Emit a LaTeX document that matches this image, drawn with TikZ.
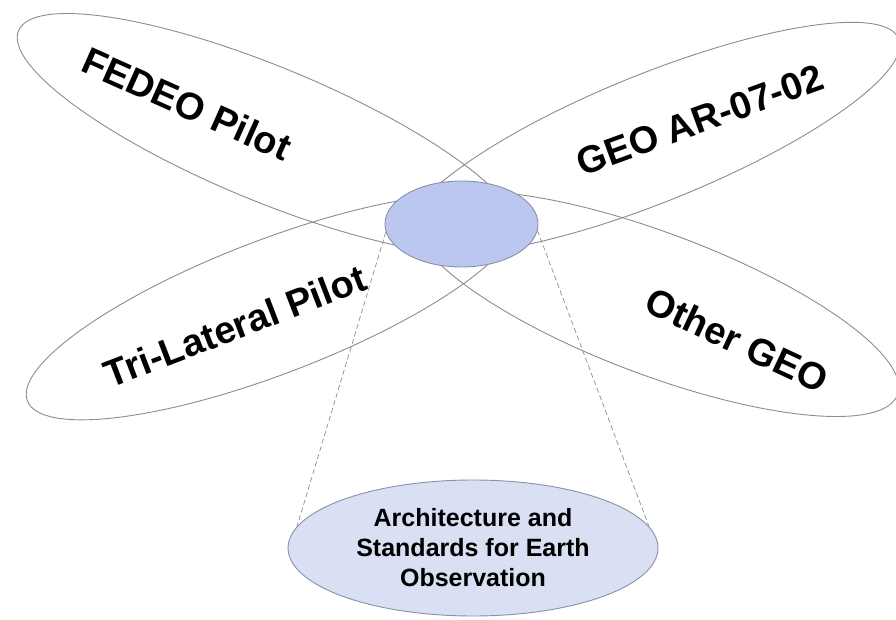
\documentclass[tikz,border=0pt]{standalone}
\usepackage{fontspec}
\setmainfont{Liberation Sans}
\usetikzlibrary{shapes.geometric}

\definecolor{petalgray}{RGB}{140,140,140}
\definecolor{corefill}{RGB}{187,199,238}
\definecolor{coreline}{RGB}{135,145,170}
\definecolor{basefill}{RGB}{218,224,244}

\begin{document}
\begin{tikzpicture}[x=1pt,y=1pt,
  petal/.style={draw=petalgray,line width=0.9pt},
  petallabel/.style={font=\fontsize{38}{42}\selectfont\bfseries,inner sep=0pt},
  core/.style={ellipse,draw=coreline,line width=0.9pt,fill=corefill,inner sep=0pt}]
\useasboundingbox (0,0) rectangle (896,619);

% petals
\draw[petal,rotate around={-22.5:(268,485)}] (268,485) ellipse [x radius=270,y radius=67];
\draw[petal,rotate around={22:(653,481)}] (653,481) ellipse [x radius=265,y radius=64];
\draw[petal,rotate around={21:(272,312)}] (272,312) ellipse [x radius=262,y radius=67];
\draw[petal,rotate around={-20.6:(656,315)}] (656,315) ellipse [x radius=258,y radius=71];

% labels of the petals
\node[petallabel,rotate=-24] (fedeo) at (187,515) {FEDEO Pilot};
\node[petallabel,rotate=20] (geoar) at (700,499) {GEO AR-07-02};
\node[petallabel,rotate=21] (trilat) at (235,293) {Tri-Lateral Pilot};
\node[petallabel,rotate=-25] (othergeo) at (737,279) {Other GEO};

% the overlap and its blow-up
\node[core,minimum width=153,minimum height=86] (overlap) at (461.5,395) {};
\node[core,fill=basefill,minimum width=370,minimum height=136,align=center,
  font=\fontsize{25}{30}\selectfont\bfseries] (aseo) at (473,71)
  {Architecture and\\Standards for Earth\\Observation};

% dashed connectors
\draw[petalgray,dashed,dash pattern=on 5pt off 3pt,line width=0.7pt] (overlap.186) -- (aseo.173);
\draw[petalgray,dashed,dash pattern=on 5pt off 3pt,line width=0.7pt] (overlap.355) -- (aseo.7);

\end{tikzpicture}
\end{document}
